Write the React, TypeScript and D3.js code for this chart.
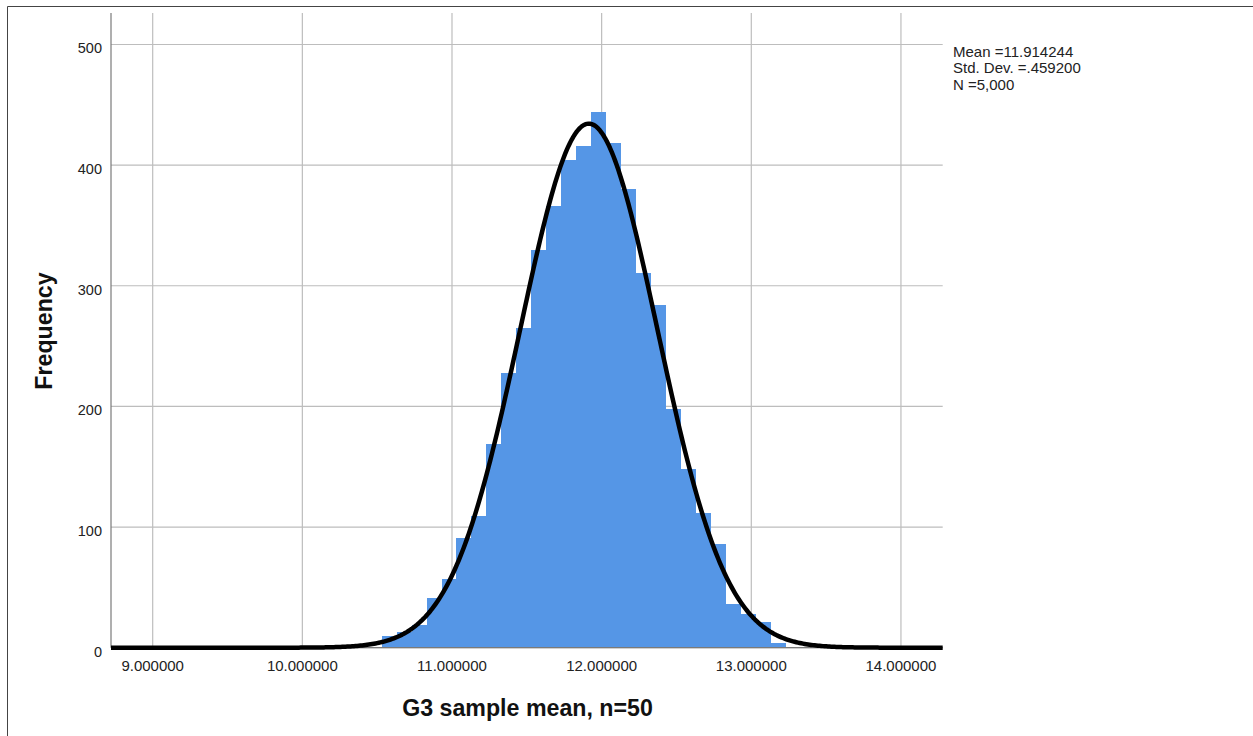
import React from "react";
import * as d3 from "d3";

// Histogram bins (lower edge) and their frequencies
const binStarts = [10.53, 10.63, 10.73, 10.83, 10.93, 11.03, 11.13, 11.23, 11.33, 11.43, 11.53, 11.63, 11.73, 11.83, 11.93, 12.03, 12.13, 12.23, 12.33, 12.43, 12.53, 12.63, 12.73, 12.83, 12.93, 13.03, 13.13];
const binCounts = [10, 13, 19, 41, 57, 91, 109, 169, 228, 265, 330, 366, 404, 416, 444, 418, 380, 311, 284, 198, 148, 112, 86, 36, 28, 21, 4];
const binWidth = 0.1;

const xTicks = [9, 10, 11, 12, 13, 14];
const yTicks = [0, 100, 200, 300, 400, 500];

const stats = { mean: 11.914244, sd: 0.4592, n: 5000 };
const legendLines = ["Mean =11.914244", "Std. Dev. =.459200", "N =5,000"];

const xTitle = "G3 sample mean, n=50";
const yTitle = "Frequency";

const W = 1253;
const H = 736;
const FONT = "'Liberation Sans', Arial, sans-serif";

export default function App() {
  const left = 111;
  const right = 942.7;
  const top = 13;
  const bottom = 647.7;

  const x = d3.scaleLinear().domain([8.7214, 14.279]).range([left, right]);
  const y = d3.scaleLinear().domain([0, 526.1]).range([bottom, top]);

  const curvePts = d3.range(0, 501).map((i) => {
    const v = 8.7214 + ((14.279 - 8.7214) * i) / 500;
    const z = (v - stats.mean) / stats.sd;
    const f = (stats.n * binWidth) / (stats.sd * Math.sqrt(2 * Math.PI)) * Math.exp(-0.5 * z * z);
    return [v, f] as [number, number];
  });
  const line = d3
    .line<[number, number]>()
    .x((d) => x(d[0]))
    .y((d) => y(d[1]))
    .curve(d3.curveLinear);

  return (
    <svg
      width={W}
      height={H}
      style={{ position: "absolute", left: 0, top: 0, background: "#fff" }}
      fontFamily={FONT}
    >
      <rect x={0} y={0} width={W} height={H} fill="#fff" />
      {/* outer frame */}
      <line x1={7.5} y1={6.5} x2={W} y2={6.5} stroke="#444" strokeWidth={1} />
      <line x1={7.5} y1={6.5} x2={7.5} y2={H} stroke="#444" strokeWidth={1} />

      {/* gridlines */}
      {yTicks.map((t) => (
        <line key={"gy" + t} x1={left} x2={right} y1={y(t)} y2={y(t)} stroke="#bdbdbd" strokeWidth={1.2} />
      ))}
      {xTicks.map((t) => (
        <line key={"gx" + t} x1={x(t)} x2={x(t)} y1={top} y2={bottom} stroke="#bdbdbd" strokeWidth={1.2} />
      ))}

      {/* bars */}
      {binStarts.map((b, i) => (
        <rect
          key={"b" + i}
          x={x(b)}
          width={x(b + binWidth) - x(b)}
          y={y(binCounts[i])}
          height={bottom - y(binCounts[i])}
          fill="#5596E6"
          shapeRendering="crispEdges"
        />
      ))}

      {/* axes */}
      <line x1={left} x2={left} y1={top} y2={bottom} stroke="#7a7a7a" strokeWidth={1.2} />
      <line x1={left} x2={right} y1={bottom} y2={bottom} stroke="#7a7a7a" strokeWidth={1.2} />

      {/* normal curve */}
      <path d={line(curvePts) || ""} fill="none" stroke="#000" strokeWidth={4.5} strokeLinejoin="round" />

      {/* y tick labels */}
      {yTicks.map((t) => (
        <text key={"ty" + t} x={102} y={y(t) + 9} textAnchor="end" fontSize={14.5} fill="#222">
          {t}
        </text>
      ))}
      {/* x tick labels */}
      {xTicks.map((t) => (
        <text key={"tx" + t} x={x(t)} y={671} textAnchor="middle" fontSize={15} fill="#222">
          {t.toFixed(6)}
        </text>
      ))}

      {/* legend */}
      {legendLines.map((s, i) => (
        <text key={"l" + i} x={953} y={56.5 + i * 16.5} fontSize={15} fill="#222">
          {s}
        </text>
      ))}

      {/* axis titles */}
      <text x={527.5} y={716} textAnchor="middle" fontSize={23.2} fontWeight="bold" fill="#111">
        {xTitle}
      </text>
      <text
        transform={`translate(52, 331) rotate(-90)`}
        textAnchor="middle"
        fontSize={23.2}
        fontWeight="bold"
        fill="#111"
      >
        {yTitle}
      </text>
    </svg>
  );
}
